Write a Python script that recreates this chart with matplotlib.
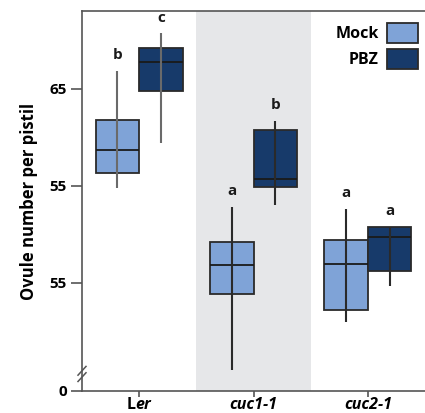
import matplotlib
matplotlib.use("Agg")
import matplotlib.pyplot as plt
from matplotlib.patches import Patch
import numpy as np

plt.rcParams['font.family'] = ['Open Sans', 'DejaVu Sans']
plt.rcParams['mathtext.fontset'] = 'custom'
plt.rcParams['mathtext.it'] = 'Open Sans:italic:bold'
plt.rcParams['mathtext.rm'] = 'Open Sans:bold'

genotypes = ["L$\\mathit{er}$", "cuc1-1", "cuc2-1"]
genotype_styles = ["normal", "italic", "italic"]
treatments = ["Mock", "PBZ"]

# box statistics per genotype: [Mock, PBZ]
q1 = {"Mock": [56.3, 43.9, 42.2], "PBZ": [64.8, 54.9, 46.2]}
med = {"Mock": [58.7, 46.8, 46.9], "PBZ": [67.75, 55.7, 49.7]}
q3 = {"Mock": [61.8, 49.2, 49.4], "PBZ": [69.2, 60.7, 50.8]}
whislo = {"Mock": [54.8, 36.0, 40.95], "PBZ": [59.4, 53.0, 44.7]}
whishi = {"Mock": [66.8, 52.8, 52.6], "PBZ": [70.7, 61.7, 50.8]}
letters = {"Mock": ["b", "a", "a"], "PBZ": ["c", "b", "a"]}

ytick_vals = [33.87, 45, 55, 65]
ytick_labels = ["0", "55", "55", "65"]

colors = {"Mock": "#7FA3D7", "PBZ": "#173A6A"}
offsets = {"Mock": -0.19, "PBZ": 0.19}
line_colors = ["#6a6a6a", "#2a2a2a", "#2a2a2a"]

fig = plt.figure(figsize=(4.25, 4.13), dpi=100)
ax = fig.add_axes([82/425, 1-391/413, 1-82/425, (391-11)/413])

ax.axvspan(0.5, 1.5, color="#E6E7E9", zorder=0, lw=0)

x = np.arange(len(genotypes))
for t in treatments:
    stats = []
    for i in range(len(genotypes)):
        stats.append(dict(med=med[t][i], q1=q1[t][i], q3=q3[t][i],
                          whislo=whislo[t][i], whishi=whishi[t][i], fliers=[]))
    pos = x + offsets[t]
    bp = ax.bxp(stats, positions=pos, widths=0.38, patch_artist=True,
                showcaps=False, showfliers=False, manage_ticks=False,
                boxprops=dict(facecolor=colors[t], edgecolor="#2a2a2a", linewidth=1.3),
                medianprops=dict(color="#1a1a1a", linewidth=1.3),
                whiskerprops=dict(linewidth=0))
    for b in bp['boxes']:
        b.set_zorder(2)
    for m in bp['medians']:
        m.set_zorder(3)
    for i in range(len(genotypes)):
        ax.vlines(pos[i], whislo[t][i], whishi[t][i], color=line_colors[i],
                  linewidth=1.5, zorder=4)
        ax.text(pos[i], whishi[t][i] + 0.9, letters[t][i], ha="center", va="bottom",
                fontsize=11, fontweight="bold", color="#1a1a1a")

ax.set_xlim(-0.5, 2.5)
ax.set_ylim(33.87, 73.0)
ax.set_yticks(ytick_vals)
ax.set_yticklabels(ytick_labels, fontsize=11, fontweight="bold")
ax.set_xticks(x)
ax.set_xticklabels(genotypes, fontsize=11.5, fontweight="bold")
for lab, st in zip(ax.get_xticklabels(), genotype_styles):
    lab.set_style(st)
ax.tick_params(axis="y", length=8, width=1.2, color="#555555", pad=3)
ax.tick_params(axis="x", length=4, width=1.2, color="#555555", pad=0)
ax.set_ylabel("Ovule number per pistil", fontsize=12, fontweight="bold", labelpad=8)

for s in ["left", "bottom", "top"]:
    ax.spines[s].set_color("#555555")
    ax.spines[s].set_linewidth(1.2)
ax.spines["right"].set_visible(False)

# axis break marks
for yc in [35.3, 35.95]:
    ax.plot([-0.535, -0.465], [yc - 0.45, yc + 0.45], color="#555555", lw=1.1,
            clip_on=False, zorder=5)

handles = [Patch(facecolor=colors[t], edgecolor="#2a2a2a", linewidth=1.3) for t in treatments]
leg = ax.legend(handles, treatments, loc="upper right", frameon=False, markerfirst=False,
                prop=dict(size=11.5, weight="bold"), handlelength=1.95, handleheight=1.55,
                labelspacing=0.35, handletextpad=0.5, borderaxespad=0.0,
                bbox_to_anchor=(0.998, 0.985))

fig.savefig("out.png", dpi=100)
